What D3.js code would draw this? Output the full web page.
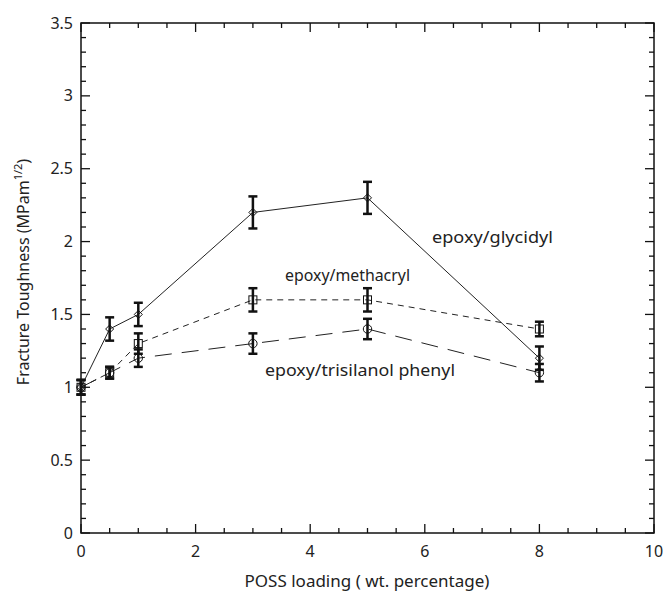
<!DOCTYPE html>
<html>
<head>
<meta charset="utf-8">
<script src="https://cdn.jsdelivr.net/npm/d3@7"></script>
<style>
  html, body { margin: 0; padding: 0; background: #fff; }
  svg { display: block; font-family: "Noto Sans", "Open Sans", sans-serif; }
</style>
</head>
<body>
<svg id="chart" width="663" height="594"></svg>
<script>
// POSS loading (wt. %)
const loading = [0, 0.5, 1, 3, 5, 8];

// Fracture toughness values and error half-widths per system
const glycidyl      = [1.0, 1.4, 1.5, 2.2, 2.3, 1.2];
const glycidylErr   = [0.05, 0.08, 0.08, 0.11, 0.11, 0.08];
const methacryl     = [1.0, 1.1, 1.3, 1.6, 1.6, 1.4];
const methacrylErr  = [0.05, 0.04, 0.07, 0.08, 0.08, 0.05];
const trisilanol    = [1.0, 1.1, 1.2, 1.3, 1.4, 1.1];
const trisilanolErr = [0.05, 0.04, 0.06, 0.07, 0.07, 0.06];

const seriesNames = ["epoxy/glycidyl", "epoxy/methacryl", "epoxy/trisilanol phenyl"];

const xTicks = [0, 2, 4, 6, 8, 10];
const yTicks = [0, 0.5, 1, 1.5, 2, 2.5, 3, 3.5];

const svg = d3.select("#chart");
const plotL = 81, plotR = 654, plotT = 23, plotB = 533;

const x = d3.scaleLinear().domain([0, 10]).range([plotL, plotR]);
const y = d3.scaleLinear().domain([0, 3.5]).range([plotB, plotT]);

const ink = "#111";
const textInk = "#222";

// frame
svg.append("rect")
  .attr("x", plotL).attr("y", plotT)
  .attr("width", plotR - plotL).attr("height", plotB - plotT)
  .attr("fill", "none").attr("stroke", ink).attr("stroke-width", 1.5);

// ticks (inward on all four sides)
const xMinor = d3.range(0, 10.001, 0.5);
const yMinor = d3.range(0, 3.5001, 0.1);
const isMajorX = v => Math.abs(v / 2 - Math.round(v / 2)) < 1e-6;
const isMajorY = v => Math.abs(v / 0.5 - Math.round(v / 0.5)) < 1e-6;

const tickG = svg.append("g").attr("stroke", ink).attr("stroke-width", 1.3);
xMinor.forEach(v => {
  const len = isMajorX(v) ? 9 : 5;
  tickG.append("line").attr("x1", x(v)).attr("x2", x(v)).attr("y1", plotB).attr("y2", plotB - len);
  tickG.append("line").attr("x1", x(v)).attr("x2", x(v)).attr("y1", plotT).attr("y2", plotT + len);
});
yMinor.forEach(v => {
  const len = isMajorY(v) ? 9 : 5;
  tickG.append("line").attr("x1", plotL).attr("x2", plotL + len).attr("y1", y(v)).attr("y2", y(v));
  tickG.append("line").attr("x1", plotR).attr("x2", plotR - len).attr("y1", y(v)).attr("y2", y(v));
});

// tick labels
svg.append("g").selectAll("text").data(xTicks).join("text")
  .attr("x", d => x(d)).attr("y", plotB + 24)
  .attr("text-anchor", "middle").attr("font-size", 16).attr("fill", textInk)
  .text(d => d);
svg.append("g").selectAll("text").data(yTicks).join("text")
  .attr("x", plotL - 8).attr("y", d => y(d) + 5.5)
  .attr("text-anchor", "end").attr("font-size", 16).attr("fill", textInk)
  .text(d => d);

// axis titles
svg.append("text")
  .attr("x", 367).attr("y", 587)
  .attr("text-anchor", "middle").attr("font-size", 17).attr("fill", textInk)
  .text("POSS loading ( wt. percentage)");

const yt = svg.append("text")
  .attr("transform", `translate(29, 272) rotate(-90)`)
  .attr("text-anchor", "middle").attr("font-size", 16).attr("fill", textInk);
yt.append("tspan").text("Fracture Toughness (MPam");
yt.append("tspan").attr("font-size", 11).attr("dy", -7).text("1/2");
yt.append("tspan").attr("dy", 7).text(")");

// series
const series = [
  { vals: glycidyl, err: glycidylErr, dash: null, marker: "diamond" },
  { vals: methacryl, err: methacrylErr, dash: "6,5", marker: "square" },
  { vals: trisilanol, err: trisilanolErr, dash: "17,10", marker: "circle" }
];

const line = d3.line().x(d => x(d[0])).y(d => y(d[1]));

series.forEach(s => {
  const pts = loading.map((l, i) => [l, s.vals[i]]);
  svg.append("path")
    .attr("d", line(pts))
    .attr("fill", "none").attr("stroke", "#222").attr("stroke-width", 1)
    .attr("stroke-dasharray", s.dash);
});

series.forEach(s => {
  const g = svg.append("g");
  loading.forEach((l, i) => {
    const cx = x(l), v = s.vals[i], e = s.err[i];
    const y1 = y(v + e), y2 = y(v - e);
    g.append("line").attr("x1", cx).attr("x2", cx).attr("y1", y1).attr("y2", y2)
      .attr("stroke", ink).attr("stroke-width", 2.5);
    [y1, y2].forEach(yy => g.append("line")
      .attr("x1", cx - 4.5).attr("x2", cx + 4.5).attr("y1", yy).attr("y2", yy)
      .attr("stroke", ink).attr("stroke-width", 2.5));
    const cy = y(v);
    if (s.marker === "diamond") {
      g.append("path").attr("d", `M${cx},${cy - 4}L${cx + 4},${cy}L${cx},${cy + 4}L${cx - 4},${cy}Z`)
        .attr("fill", "none").attr("stroke", ink).attr("stroke-width", 1);
    } else if (s.marker === "square") {
      g.append("rect").attr("x", cx - 4).attr("y", cy - 4).attr("width", 8).attr("height", 8)
        .attr("fill", "none").attr("stroke", ink).attr("stroke-width", 1);
    } else {
      g.append("circle").attr("cx", cx).attr("cy", cy).attr("r", 4.2)
        .attr("fill", "none").attr("stroke", ink).attr("stroke-width", 1);
    }
  });
});

// series labels
const labelPos = [[432, 243], [285, 281], [265, 376]];
const labelWidth = [121, 125, 190];
seriesNames.forEach((n, i) => {
  svg.append("text").attr("x", labelPos[i][0]).attr("y", labelPos[i][1])
    .attr("font-size", 16).attr("fill", textInk)
    .attr("textLength", labelWidth[i]).attr("lengthAdjust", "spacingAndGlyphs")
    .text(n);
});
</script>
</body>
</html>
